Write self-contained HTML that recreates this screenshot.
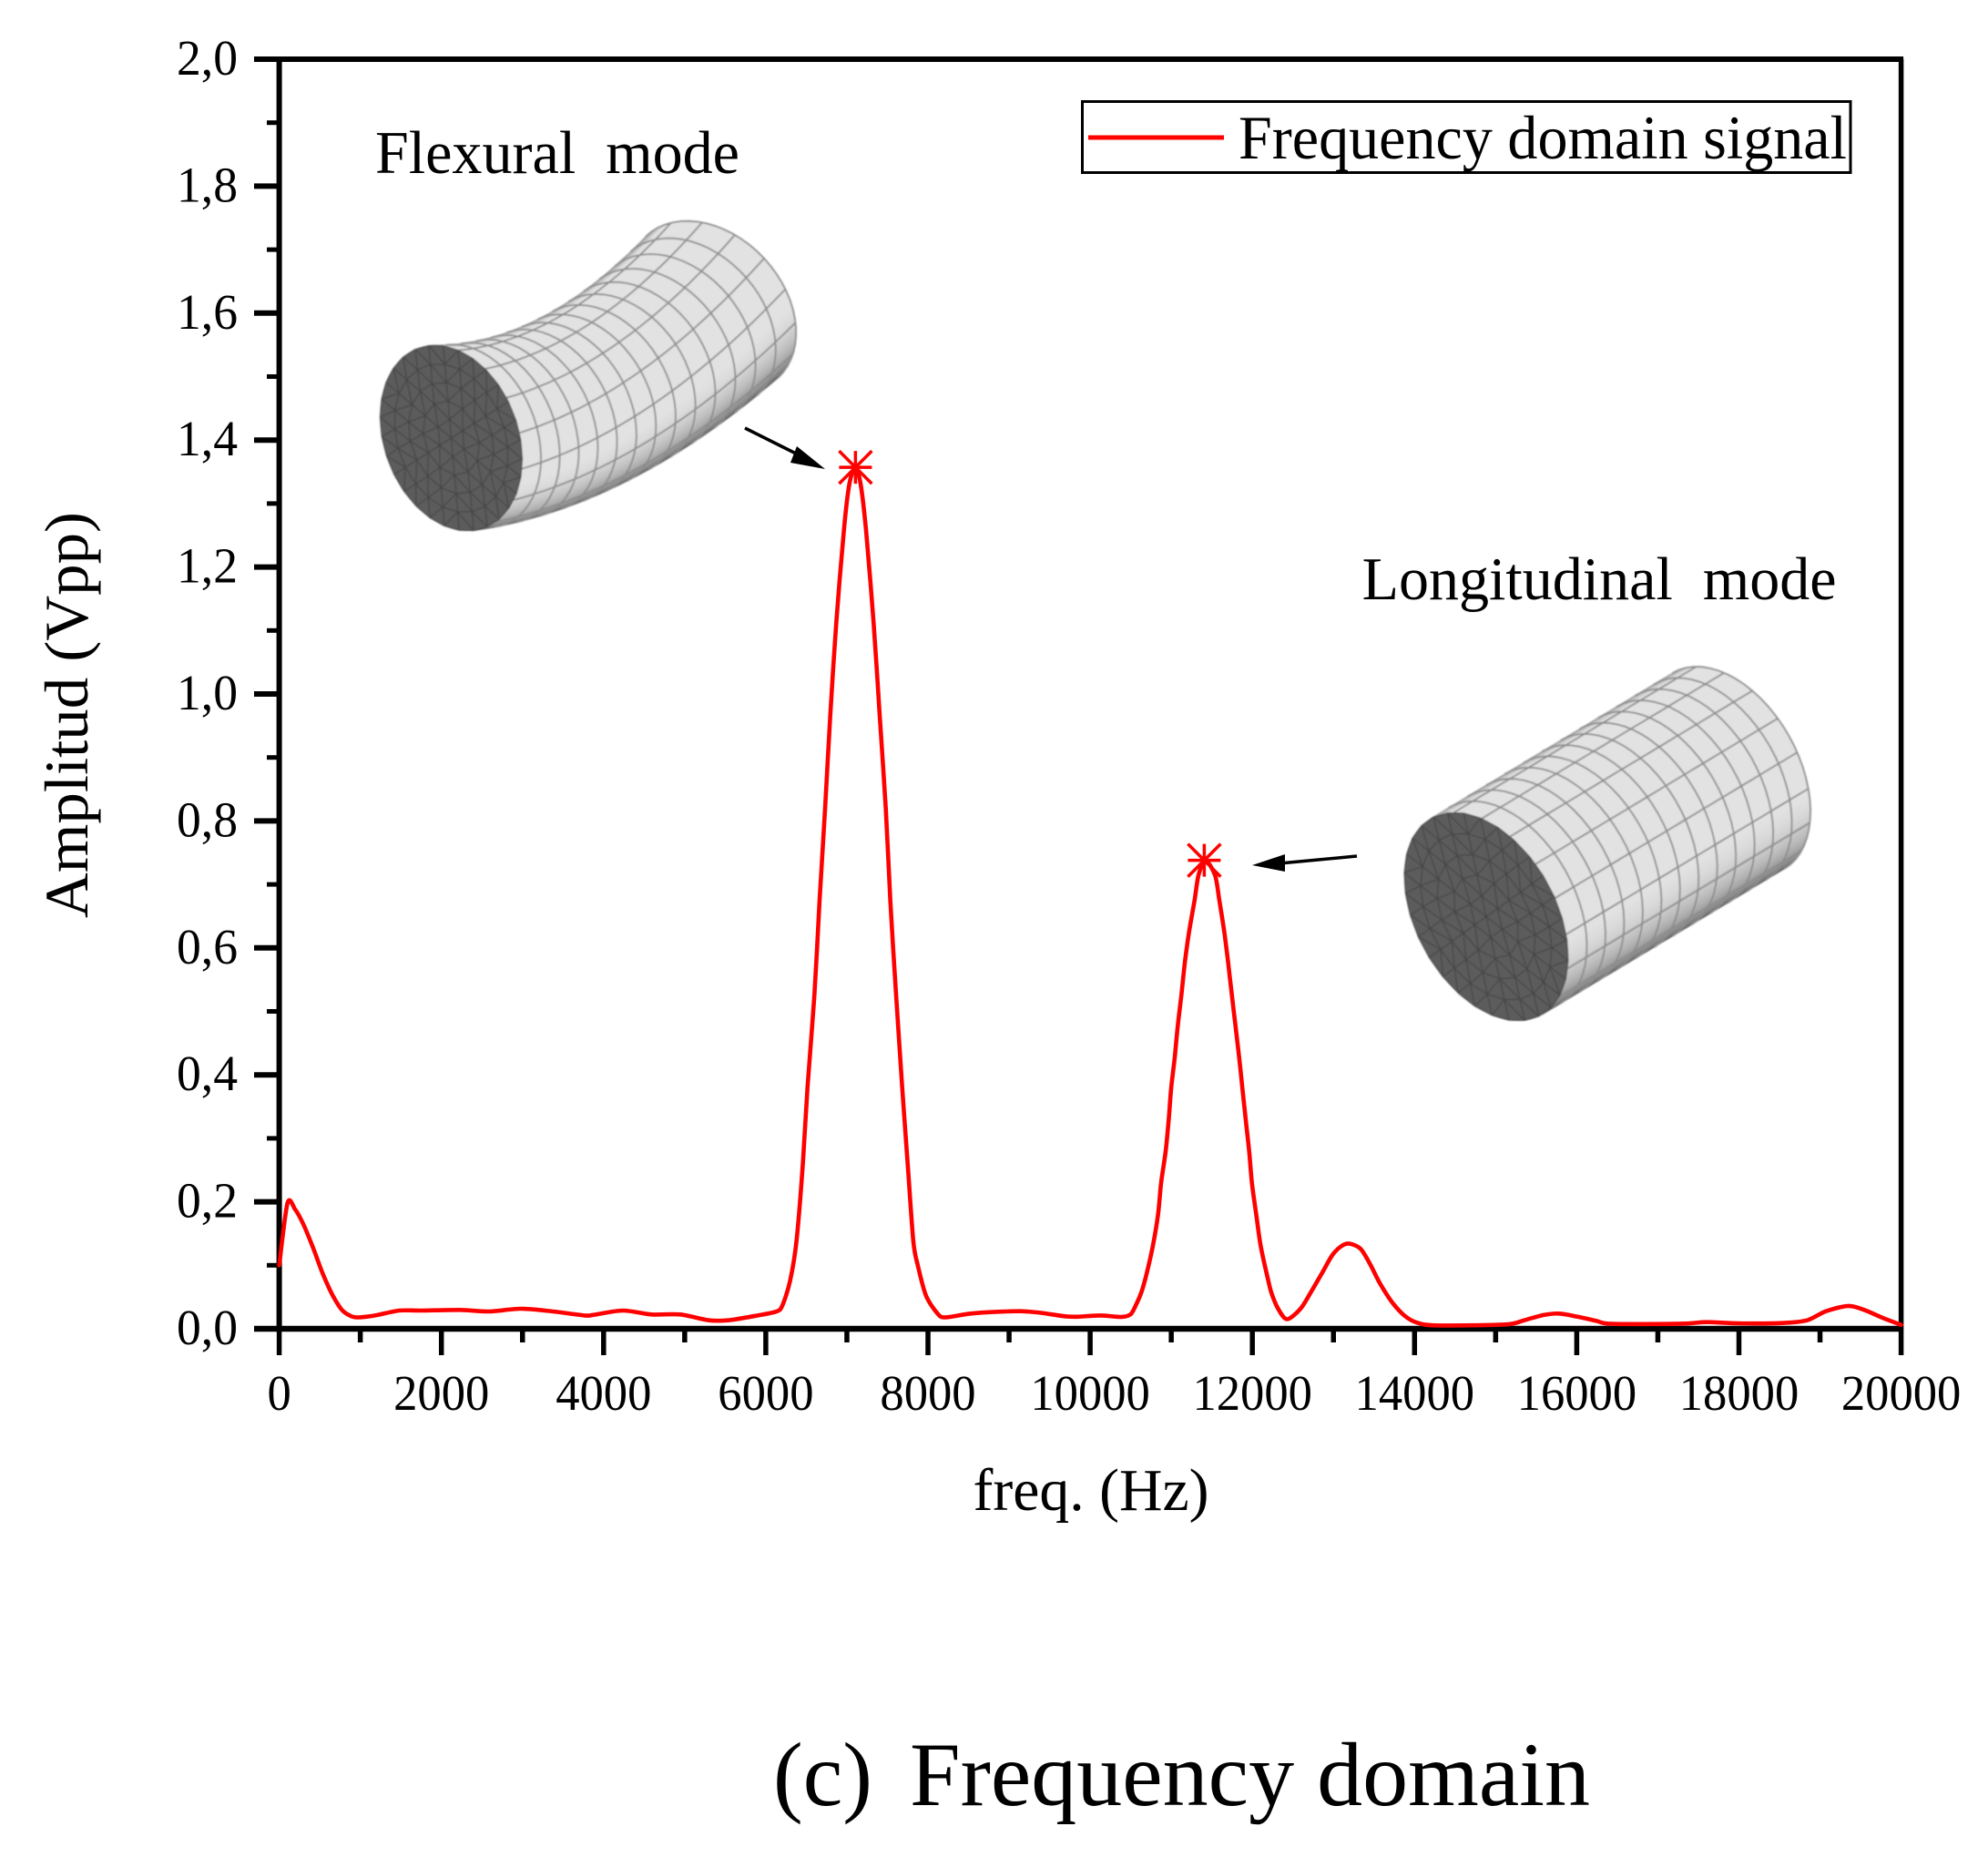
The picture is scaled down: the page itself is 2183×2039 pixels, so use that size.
<!DOCTYPE html>
<html lang="en">
<head>
<meta charset="utf-8">
<title>Frequency domain signal</title>
<style>
html,body{margin:0;padding:0;background:#fff;}
svg{display:block;}
text{font-family:"Liberation Serif",serif;fill:#000;white-space:pre;}
</style>
</head>
<body>
<svg id="chart" xmlns="http://www.w3.org/2000/svg" width="2183" height="2039" viewBox="0 0 2183 2039">
  <defs>
    <filter id="soft" x="-5%" y="-5%" width="110%" height="110%"><feGaussianBlur stdDeviation="0.8"/></filter>
  </defs>
  <rect x="0" y="0" width="2183" height="2039" fill="#fff"/>
  <g id="illustrations" filter="url(#soft)"></g>
  <g id="axes"></g>
  <g id="series"></g>

  <text transform="translate(96,785) rotate(-90)" text-anchor="middle" font-size="68" textLength="446" lengthAdjust="spacingAndGlyphs">Amplitud (Vpp)</text>
  <text x="1198" y="1658" text-anchor="middle" font-size="66" textLength="259" lengthAdjust="spacingAndGlyphs">freq. (Hz)</text>

  <g>
    <rect x="1188.5" y="111.5" width="843.5" height="78" fill="none" stroke="#000" stroke-width="3"/>
    <line x1="1195" y1="151" x2="1344" y2="151" stroke="#ff0000" stroke-width="5"/>
    <text x="1360" y="174" font-size="68" textLength="668" lengthAdjust="spacingAndGlyphs">Frequency domain signal</text>
  </g>

  <text x="412" y="190" font-size="67" textLength="400" lengthAdjust="spacingAndGlyphs">Flexural  mode</text>
  <text x="1495.6" y="658" font-size="67" textLength="521" lengthAdjust="spacingAndGlyphs">Longitudinal  mode</text>

  <g>
    <line x1="818" y1="470" x2="880" y2="501" stroke="#000" stroke-width="3.5"/>
    <polygon points="906,515 875,490 868,508" fill="#000"/>
  </g>
  <g>
    <line x1="1490" y1="940" x2="1405" y2="948" stroke="#000" stroke-width="3.5"/>
    <polygon points="1375,950 1411,938 1411,957" fill="#000"/>
  </g>

  <text x="849" y="1982" font-size="100" textLength="109" lengthAdjust="spacingAndGlyphs">(c)</text>
  <text x="999" y="1982" font-size="100">Frequency domain</text>
</svg>

<script>
// ---- chart data ----
const freqValues = [0,102,197,300,417,535,654,772,890,984,1205,1480,1756,2228,2583,2976,3330,3764,3882,4236,4590,4945,5300,5535,5811,6126,6205,6300,6378,6458,6514,6600,6663,6731,6795,6869,6963,7031,7106,7169,7236,7330,7405,7480,7536,7607,7682,7749,7819,7874,7976,8118,8212,8528,8905,9147,9380,9690,9845,10116,10388,10501,10563,10630,10687,10774,10838,10875,10931,10968,10998,11043,11080,11125,11167,11219,11287,11335,11420,11541,11593,11654,11702,11747,11792,11837,11878,11919,11961,11994,12047,12102,12185,12234,12316,12428,12596,12728,12869,12986,13102,13203,13335,13451,13567,13722,13877,14032,14265,15118,15351,15584,15778,16010,16243,16437,17290,17600,17988,18531,18841,19074,19345,19539,19772,20000];
const amplitudeValues = [0.100,0.198,0.188,0.164,0.128,0.0875,0.054,0.030,0.0196,0.018,0.0215,0.0287,0.0287,0.0297,0.0273,0.0316,0.028,0.021,0.022,0.0287,0.0225,0.0225,0.0134,0.0134,0.019,0.027,0.037,0.0756,0.138,0.262,0.380,0.526,0.673,0.819,0.966,1.112,1.258,1.331,1.357,1.331,1.258,1.112,0.966,0.819,0.673,0.526,0.380,0.262,0.138,0.100,0.052,0.024,0.018,0.024,0.027,0.0277,0.0253,0.0196,0.019,0.021,0.0187,0.023,0.037,0.057,0.082,0.131,0.1805,0.2298,0.2795,0.3285,0.378,0.4275,0.477,0.526,0.576,0.625,0.6745,0.714,0.738,0.714,0.6745,0.625,0.576,0.526,0.477,0.4275,0.378,0.3285,0.2795,0.2298,0.1805,0.131,0.082,0.057,0.032,0.015,0.032,0.059,0.09,0.116,0.1305,0.134,0.1258,0.102,0.073,0.042,0.0206,0.0096,0.0053,0.0067,0.0134,0.0215,0.024,0.019,0.0124,0.0077,0.0081,0.0105,0.0086,0.009,0.0134,0.0277,0.0359,0.030,0.0172,0.0062];
const peakFreqs = [7106,11407];
const peakAmps = [1.357,0.738];
const xTickValues = [0,2000,4000,6000,8000,10000,12000,14000,16000,18000,20000];
const xTickLabels = ["0","2000","4000","6000","8000","10000","12000","14000","16000","18000","20000"];
const xMinorValues = [1000,3000,5000,7000,9000,11000,13000,15000,17000,19000];
const yTickValues = [0,0.2,0.4,0.6,0.8,1.0,1.2,1.4,1.6,1.8,2.0];
const yTickLabels = ["0,0","0,2","0,4","0,6","0,8","1,0","1,2","1,4","1,6","1,8","2,0"];
const yMinorValues = [0.1,0.3,0.5,0.7,0.9,1.1,1.3,1.5,1.7,1.9];

const NS = 'http://www.w3.org/2000/svg';
const PLOT = {left:306.6, right:2087.6, top:65, bottom:1459};
function xScale(f){ return PLOT.left + f/20000*(PLOT.right-PLOT.left); }
function yScale(a){ return PLOT.bottom - a/2*(PLOT.bottom-PLOT.top); }
function make(tag, attrs, parent){
  const el = document.createElementNS(NS, tag);
  for (const k in attrs) el.setAttribute(k, attrs[k]);
  parent.appendChild(el);
  return el;
}

// ---- axes ----
const axes = document.getElementById('axes');
const leftAxis = make('line',{x1:PLOT.left,y1:PLOT.top-3,x2:PLOT.left,y2:PLOT.bottom,stroke:'#000','stroke-width':6},axes);


const rightAxis = make('line',{x1:PLOT.right,y1:PLOT.top,x2:PLOT.right,y2:PLOT.bottom,stroke:'#000','stroke-width':5.5},axes);


const topAxis = make('line',{x1:PLOT.left,y1:PLOT.top,x2:PLOT.right+2.5,y2:PLOT.top,stroke:'#000','stroke-width':6},axes);


const bottomAxis = make('line',{x1:279,y1:PLOT.bottom,x2:PLOT.right+2.5,y2:PLOT.bottom,stroke:'#000','stroke-width':6.5},axes);



yTickValues.forEach(function(v,i){
  const y = yScale(v);
  const t = make('line',{x1:279,y1:y,x2:PLOT.left,y2:y,stroke:'#000','stroke-width':6},axes);
  
  
  const l = make('text',{x:261,y:y+17,'text-anchor':'end','font-size':55,textLength:67,lengthAdjust:'spacingAndGlyphs'},axes);
  
  
  l.textContent = yTickLabels[i];
});
yMinorValues.forEach(function(v){
  const y = yScale(v);
  const t = make('line',{x1:293,y1:y,x2:PLOT.left,y2:y,stroke:'#000','stroke-width':5},axes);
  
  
});
xTickValues.forEach(function(v,i){
  const x = xScale(v);
  const t = make('line',{x1:x,y1:PLOT.bottom,x2:x,y2:1488,stroke:'#000','stroke-width':5.5},axes);
  
  
  const l = make('text',{x:x,y:1548,'text-anchor':'middle','font-size':55,textLength:26.3*xTickLabels[i].length,lengthAdjust:'spacingAndGlyphs'},axes);
  
  
  l.textContent = xTickLabels[i];
});
xMinorValues.forEach(function(v){
  const x = xScale(v);
  const t = make('line',{x1:x,y1:PLOT.bottom,x2:x,y2:1474,stroke:'#000','stroke-width':5.5},axes);
  
  
});

// ---- series ----
const series = document.getElementById('series');
const P = freqValues.map(function(f,i){ return [xScale(f), yScale(amplitudeValues[i])]; });
let curveD = 'M'+P[0][0].toFixed(1)+' '+P[0][1].toFixed(1);
for (let i=0;i<P.length-1;i++){
  const p0=P[Math.max(i-1,0)], p1=P[i], p2=P[i+1], p3=P[Math.min(i+2,P.length-1)];
  const k=1/7;
  curveD+='C'+(p1[0]+(p2[0]-p0[0])*k).toFixed(1)+' '+(p1[1]+(p2[1]-p0[1])*k).toFixed(1)+' '+
          (p2[0]-(p3[0]-p1[0])*k).toFixed(1)+' '+(p2[1]-(p3[1]-p1[1])*k).toFixed(1)+' '+
          p2[0].toFixed(1)+' '+p2[1].toFixed(1);
}
const curve = make('path',{d:curveD,fill:'none',stroke:'#ff0000','stroke-width':4.6,'stroke-linejoin':'round','stroke-linecap':'round'},series);


peakFreqs.forEach(function(f,i){
  const cx = xScale(f), cy = yScale(peakAmps[i]), r = 18;
  const d = 'M'+(cx-r)+' '+cy+'H'+(cx+r)+'M'+cx+' '+(cy-r)+'V'+(cy+r)+
            'M'+(cx-r)+' '+(cy-r)+'L'+(cx+r)+' '+(cy+r)+'M'+(cx-r)+' '+(cy+r)+'L'+(cx+r)+' '+(cy-r);
  const m = make('path',{d:d,fill:'none',stroke:'#ff0000','stroke-width':3.5},series);
  
  
});

// ---- mesh illustrations ----
const illo = document.getElementById('illustrations');
function drawCylinder(cfg, name){
  const g = make('g',{},illo);
  
  
  function lerp(a,b,t){ return a+(b-a)*t; }
  function frame(t){
    const q=1-t;
    return {
      sx:q*q*cfg.p0[0]+2*q*t*cfg.c[0]+t*t*cfg.p1[0],
      sy:q*q*cfg.p0[1]+2*q*t*cfg.c[1]+t*t*cfg.p1[1],
      dx:2*q*(cfg.c[0]-cfg.p0[0])+2*t*(cfg.p1[0]-cfg.c[0]),
      dy:2*q*(cfg.c[1]-cfg.p0[1])+2*t*(cfg.p1[1]-cfg.c[1]),
      ux:lerp(cfg.u0[0],cfg.u1[0],t), uy:lerp(cfg.u0[1],cfg.u1[1],t),
      vx:lerp(cfg.v0[0],cfg.v1[0],t), vy:lerp(cfg.v0[1],cfg.v1[1],t)
    };
  }
  function pt(t,rad,r){
    const f=frame(t), rr=(r===undefined)?1:r;
    return [f.sx+rr*(f.ux*Math.cos(rad)+f.vx*Math.sin(rad)), f.sy+rr*(f.uy*Math.cos(rad)+f.vy*Math.sin(rad))];
  }
  // point on the visible half-surface; s = 0 top silhouette, s = 1 bottom silhouette
  function surf(t,s){
    const f=frame(t);
    const cv=f.dx*f.vy-f.dy*f.vx, cu=f.dx*f.uy-f.dy*f.ux;
    const a0=Math.atan(cv/cu);
    return pt(t,a0+s*Math.PI);
  }
  function shade(s){
    let v = 226;
    if (s<0.1) v = 125+(226-125)*s/0.1;
    if (s>0.68){ const k=(s-0.68)/0.32; v = 226-135*Math.pow(k,1.5); }
    v = Math.round(v);
    return 'rgb('+v+','+v+','+v+')';
  }
  const T = 36, B = 60;
  for (let b=0;b<B;b++){
    const up=[], down=[];
    for (let i=0;i<=T;i++){
      const t=i/T, p=surf(t,b/B), q=surf(t,(b+1)/B);
      up.push(p[0].toFixed(1)+','+p[1].toFixed(1));
      down.unshift(q[0].toFixed(1)+','+q[1].toFixed(1));
    }
    const fill = shade((b+0.5)/B);
    const band = make('polygon',{points:up.concat(down).join(' '),fill:fill,stroke:fill,'stroke-width':0.8},g);
    
    
  }
  let d='';
  for (let k=1;k<=cfg.rings;k++){
    const t=k/cfg.rings;
    for (let j=0;j<=30;j++){
      const p=surf(t,j/30);
      d+=(j===0?'M':'L')+p[0].toFixed(1)+' '+p[1].toFixed(1);
    }
  }
  for (let m=1;m<cfg.lines;m++){
    for (let i=0;i<=T;i++){
      const p=surf(i/T,m/cfg.lines);
      d+=(i===0?'M':'L')+p[0].toFixed(1)+' '+p[1].toFixed(1);
    }
  }
  const grid = make('path',{d:d,fill:'none',stroke:'rgb(140,140,140)','stroke-width':1.8},g);
  
  
  // end face
  const facePts=[];
  for (let a=0;a<72;a++){ const p=pt(0,a*Math.PI/36); facePts.push(p[0].toFixed(1)+','+p[1].toFixed(1)); }
  const face = make('polygon',{points:facePts.join(' '),fill:'#5c5c5c'},g);
  
  
  let m='';
  const R=5, off=0.12;
  for (let k=1;k<=R;k++){
    const n=6*k;
    for (let j=0;j<n;j++){
      const p=pt(0,j*2*Math.PI/n+off,k/R), q=pt(0,(j+1)*2*Math.PI/n+off,k/R);
      m+='M'+p[0].toFixed(1)+' '+p[1].toFixed(1)+'L'+q[0].toFixed(1)+' '+q[1].toFixed(1);
      const inner=k-1, ni=6*inner;
      if (inner===0){
        const c=pt(0,0,0);
        m+='M'+p[0].toFixed(1)+' '+p[1].toFixed(1)+'L'+c[0].toFixed(1)+' '+c[1].toFixed(1);
      } else {
        const i1=Math.floor(j*ni/n), i2=Math.ceil(j*ni/n);
        const a1=pt(0,i1*2*Math.PI/ni+off,inner/R), a2=pt(0,i2*2*Math.PI/ni+off,inner/R);
        m+='M'+p[0].toFixed(1)+' '+p[1].toFixed(1)+'L'+a1[0].toFixed(1)+' '+a1[1].toFixed(1);
        m+='M'+p[0].toFixed(1)+' '+p[1].toFixed(1)+'L'+a2[0].toFixed(1)+' '+a2[1].toFixed(1);
      }
    }
  }
  const mesh = make('path',{d:m,fill:'none',stroke:'#3e3e3e','stroke-width':1.1,opacity:0.8},g);
  
  
}
drawCylinder({p0:[495.5,481],c:[640,470],p1:[782,337],u0:[-18,-102],v0:[76,0],u1:[-70,-80],v1:[60,-50],rings:14,lines:8},'flexural-mode-mesh');
drawCylinder({p0:[1632,1006.5],c:[1765,926.5],p1:[1898,846.5],u0:[-35,-114.5],v0:[83,0],u1:[-35,-114.5],v1:[83,0],rings:13,lines:9},'longitudinal-mode-mesh');
</script>
</body>
</html>
